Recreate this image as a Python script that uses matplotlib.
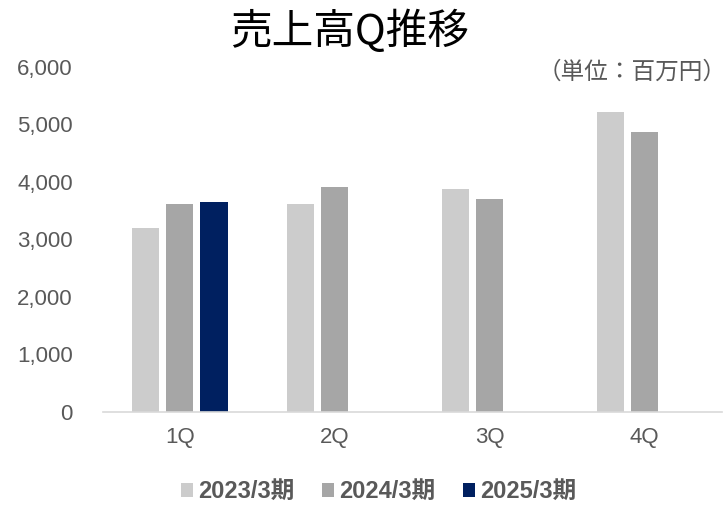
import matplotlib
matplotlib.use("Agg")
import matplotlib.pyplot as plt
import numpy as np

plt.rcParams['font.family'] = ['Liberation Sans', 'Noto Sans CJK JP']

quarters = ["1Q", "2Q", "3Q", "4Q"]
series_names = ["2023/3期", "2024/3期", "2025/3期"]
fy2023 = [3195, 3625, 3875, 5210]
fy2024 = [3610, 3920, 3705, 4870]
fy2025 = [3650, np.nan, np.nan, np.nan]
colors = ["#CCCCCC", "#A6A6A6", "#002060"]

fig = plt.figure(figsize=(7.27, 5.07), dpi=100)
ax = fig.add_axes([0.1410, 0.1874, 0.8520, 0.6805])

x = np.arange(len(quarters))
w = 0.175
step = 0.22
for i, (vals, name, c) in enumerate(zip([fy2023, fy2024, fy2025], series_names, colors)):
    ax.bar(x + (i - 1) * step, vals, width=w, color=c, label=name, zorder=2)

ax.set_xlim(-0.5, 3.5)
ax.set_ylim(0, 6000)
ax.set_yticks(range(0, 6001, 1000))
ax.set_yticklabels([f"{v:,}" for v in range(0, 6001, 1000)])
ax.set_xticks(x)
ax.set_xticklabels(quarters)
ax.tick_params(length=0, labelsize=16, colors="#595959")
ax.tick_params(axis="y", pad=21.5)
ax.tick_params(axis="x", pad=11)
for s in ["top", "right", "left"]:
    ax.spines[s].set_visible(False)
ax.spines["bottom"].set_color("#D9D9D9")
ax.spines["bottom"].set_linewidth(1.2)

fig.text(0.481, 0.938, "売上高Q推移", ha="center", va="center", fontsize=30,
         family=["Noto Sans CJK JP"], color="#000000")
fig.text(0.999, 0.858, "（単位：百万円）", ha="right", va="center", fontsize=17,
         family=["Noto Sans CJK JP"], color="#595959")

leg = fig.legend(loc="center", bbox_to_anchor=(0.521, 0.03), ncol=3, frameon=False,
                 prop={"size": 17, "weight": "bold"}, handlelength=0.52,
                 handleheight=0.52, handletextpad=0.22, columnspacing=1.15)
for t in leg.get_texts():
    t.set_color("#595959")

fig.savefig("out.png", dpi=100)
